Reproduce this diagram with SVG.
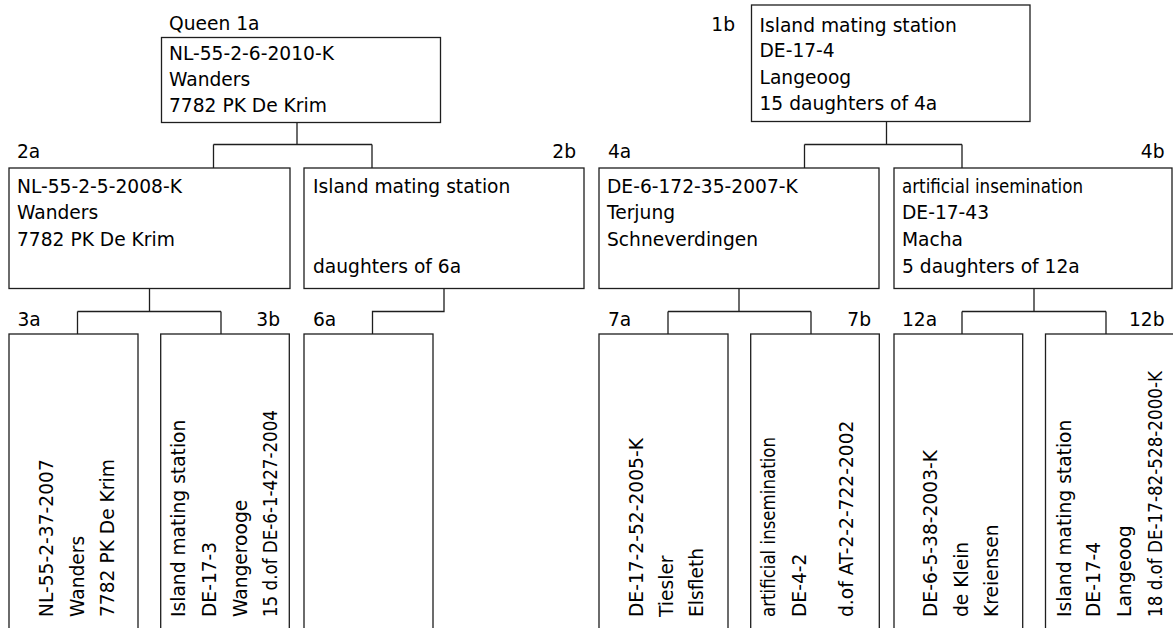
<svg xmlns="http://www.w3.org/2000/svg" width="1173" height="628" viewBox="0 0 1173 628">
<style>
  .box { fill: #ffffff; stroke: #1e1e1e; stroke-width: 1.3; }
  .conn { fill: none; stroke: #1e1e1e; stroke-width: 1.3; }
  text { font-family: "DejaVu Sans", Verdana, sans-serif; font-size: 18.67px; fill: #000000; }
  .end { text-anchor: end; }
</style>
<rect x="0" y="0" width="1173" height="628" fill="#ffffff"/>

<g id="connectors">
  <path class="conn" d="M297 122.5 V144.5 M213.5 144.5 H372 M213.5 144.5 V168 M372 144.5 V168"/>
  <path class="conn" d="M886.5 121.5 V144.5 M804.5 144.5 H962 M804.5 144.5 V168 M962 144.5 V168"/>
  <path class="conn" d="M149.5 288.5 V311.5 M77.5 311.5 H221 M77.5 311.5 V334 M221 311.5 V334"/>
  <path class="conn" d="M444 288.5 V311.5 H372.5 V334"/>
  <path class="conn" d="M739 288.5 V311.5 M668 311.5 H811 M668 311.5 V334 M811 311.5 V334"/>
  <path class="conn" d="M1034 288.5 V311.5 M962 311.5 H1106 M962 311.5 V334 M1106 311.5 V334"/>
</g>

<g id="node-1a">
  <text x="169" y="29.5">Queen 1a</text>
  <rect class="box" x="161.5" y="37.5" width="279" height="85"/>
  <text x="169" y="59.5">NL-55-2-6-2010-K</text>
  <text x="169" y="85.5">Wanders</text>
  <text x="169" y="111.7">7782 PK De Krim</text>
</g>

<g id="node-1b">
  <text class="end" x="735" y="31">1b</text>
  <rect class="box" x="751.5" y="5" width="278.5" height="116.5"/>
  <text x="759.5" y="31.5">Island mating station</text>
  <text x="759.5" y="57">DE-17-4</text>
  <text x="759.5" y="83.5">Langeoog</text>
  <text x="759.5" y="110">15 daughters of 4a</text>
</g>

<g id="node-2a">
  <text x="17" y="158">2a</text>
  <rect class="box" x="9" y="168" width="281" height="120.5"/>
  <text x="17" y="192.8">NL-55-2-5-2008-K</text>
  <text x="17" y="219.2">Wanders</text>
  <text x="17" y="245.8">7782 PK De Krim</text>
</g>

<g id="node-2b">
  <text class="end" x="576" y="158">2b</text>
  <rect class="box" x="304" y="168" width="280" height="120.5"/>
  <text x="313" y="192.8">Island mating station</text>
  <text x="313" y="272.5">daughters of 6a</text>
</g>

<g id="node-4a">
  <text x="608" y="158">4a</text>
  <rect class="box" x="599" y="168" width="280" height="120.5"/>
  <text x="607" y="192.8">DE-6-172-35-2007-K</text>
  <text x="607" y="219.2">Terjung</text>
  <text x="607" y="245.8">Schneverdingen</text>
</g>

<g id="node-4b">
  <text class="end" x="1164.5" y="158">4b</text>
  <rect class="box" x="894" y="168" width="278" height="120.5"/>
  <text x="902" y="192.8" textLength="181" lengthAdjust="spacingAndGlyphs">artificial insemination</text>
  <text x="902" y="219.2">DE-17-43</text>
  <text x="902" y="245.8">Macha</text>
  <text x="902" y="272.5">5 daughters of 12a</text>
</g>

<g id="node-3a">
  <text x="17.5" y="325.5">3a</text>
  <rect class="box" x="9" y="334" width="129" height="310"/>
  <text transform="translate(53.3 617) rotate(-90)">NL-55-2-37-2007</text>
  <text transform="translate(83.5 617) rotate(-90)">Wanders</text>
  <text transform="translate(114.3 617) rotate(-90)">7782 PK De Krim</text>
</g>

<g id="node-3b">
  <text class="end" x="280" y="325.5">3b</text>
  <rect class="box" x="160.7" y="334" width="128.6" height="310"/>
  <text transform="translate(185 617) rotate(-90)">Island mating station</text>
  <text transform="translate(216 617) rotate(-90)">DE-17-3</text>
  <text transform="translate(246.7 617) rotate(-90)">Wangerooge</text>
  <text transform="translate(277 617) rotate(-90)" textLength="207" lengthAdjust="spacingAndGlyphs">15 d.of DE-6-1-427-2004</text>
</g>

<g id="node-6a">
  <text x="313" y="325.5">6a</text>
  <rect class="box" x="304" y="334" width="129" height="310"/>
</g>

<g id="node-7a">
  <text x="608" y="325.5">7a</text>
  <rect class="box" x="599" y="334" width="129" height="310"/>
  <text transform="translate(643.3 617) rotate(-90)">DE-17-2-52-2005-K</text>
  <text transform="translate(673.3 617) rotate(-90)">Tiesler</text>
  <text transform="translate(703.3 617) rotate(-90)">Elsfleth</text>
</g>

<g id="node-7b">
  <text class="end" x="871" y="325.5">7b</text>
  <rect class="box" x="750.7" y="334" width="128.6" height="310"/>
  <text transform="translate(775 617) rotate(-90)" textLength="180" lengthAdjust="spacingAndGlyphs">artificial insemination</text>
  <text transform="translate(806 617) rotate(-90)">DE-4-2</text>
  <text transform="translate(853.3 617) rotate(-90)">d.of AT-2-2-722-2002</text>
</g>

<g id="node-12a">
  <text x="902" y="325.5">12a</text>
  <rect class="box" x="894" y="334" width="128.7" height="310"/>
  <text transform="translate(937.3 617) rotate(-90)">DE-6-5-38-2003-K</text>
  <text transform="translate(968.3 617) rotate(-90)">de Klein</text>
  <text transform="translate(998.3 617) rotate(-90)">Kreiensen</text>
</g>

<g id="node-12b">
  <text class="end" x="1164.5" y="325.5">12b</text>
  <rect class="box" x="1045.5" y="334" width="128.5" height="310"/>
  <text transform="translate(1070.7 617) rotate(-90)">Island mating station</text>
  <text transform="translate(1100 617) rotate(-90)">DE-17-4</text>
  <text transform="translate(1130.7 617) rotate(-90)">Langeoog</text>
  <text transform="translate(1161.7 617) rotate(-90)" textLength="246" lengthAdjust="spacingAndGlyphs">18 d.of DE-17-82-528-2000-K</text>
</g>
</svg>
